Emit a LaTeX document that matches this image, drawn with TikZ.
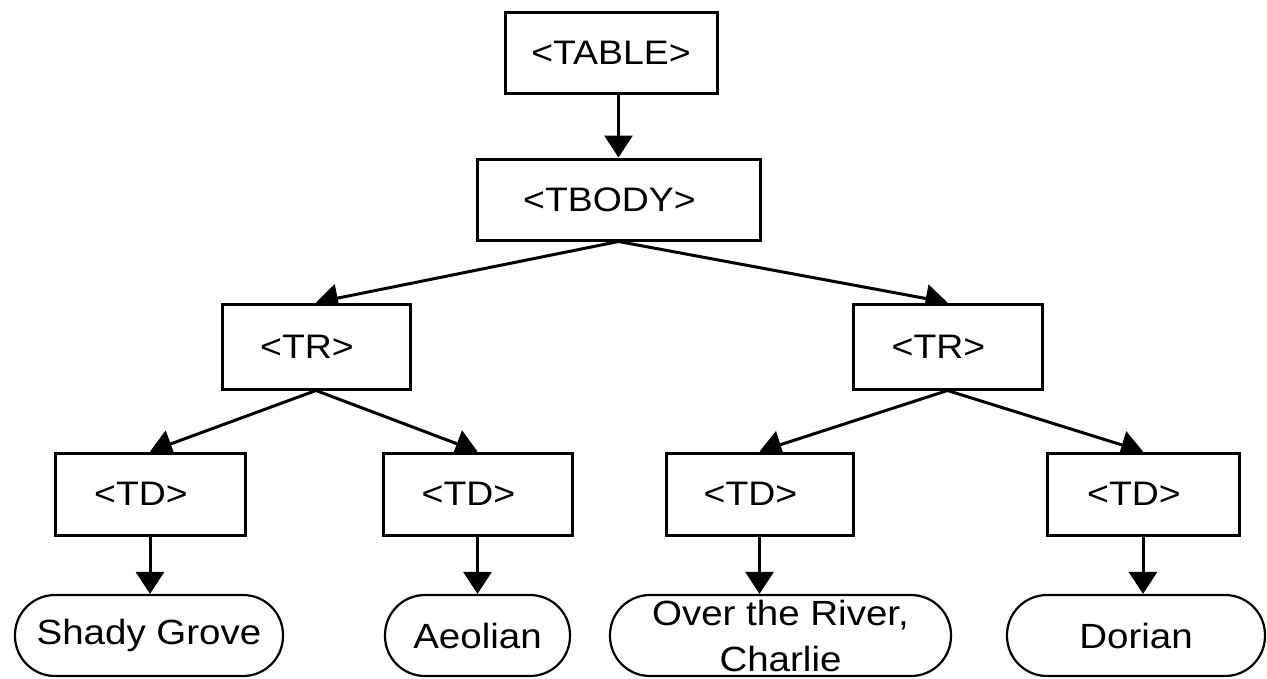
\documentclass[tikz,border=0pt]{standalone}
\usepackage{fontspec}
\setmainfont{Liberation Sans}[FakeStretch=1.1]
\usetikzlibrary{arrows.meta,backgrounds}
\begin{document}
\begin{tikzpicture}[x=1pt,y=-1pt,
  box/.style={draw, line width=3pt, fill=white, inner sep=0pt, font=\fontsize{34}{40}\selectfont},
  leaf/.style={draw, line width=2.2pt, fill=white, rounded corners=40pt, inner sep=0pt, align=center, font=\fontsize{35}{46}\selectfont},
  conn/.style={line width=3pt, -{Triangle[width=28pt,length=22pt]}}]
\useasboundingbox (0,0) rectangle (1267,678);
% boxes
\node[box, minimum width=212pt, minimum height=81pt] (table) at (611,52.5) {<TABLE>};
\node[box, minimum width=283pt, minimum height=81pt] (tbody) at (618.5,199.5) {<TBODY>\hspace*{18pt}};
\node[box, minimum width=188pt, minimum height=85pt] (trl) at (316,346.5) {<TR>\hspace*{18pt}};
\node[box, minimum width=189pt, minimum height=85pt] (trr) at (947.5,346.5) {<TR>\hspace*{18pt}};
\node[box, minimum width=190pt, minimum height=82pt] (td1) at (150,494) {<TD>\hspace*{18pt}};
\node[box, minimum width=189pt, minimum height=82pt] (td2) at (477.5,494) {<TD>\hspace*{18pt}};
\node[box, minimum width=187pt, minimum height=82pt] (td3) at (759.5,494) {<TD>\hspace*{18pt}};
\node[box, minimum width=192pt, minimum height=82pt] (td4) at (1143,494) {<TD>\hspace*{18pt}};
% leaves
\node[leaf, minimum width=268pt, minimum height=81pt] (l1) at (149,635.5) {Shady Grove};
\node[leaf, minimum width=185pt, minimum height=81pt] (l2) at (477.5,635.5) {Aeolian};
\node[leaf, minimum width=341pt, minimum height=81pt] (l3) at (780.5,635.5) {Over the River,\\Charlie};
\node[leaf, minimum width=258pt, minimum height=81pt] (l4) at (1136,635.5) {Dorian};
% connectors behind the boxes
\begin{pgfonlayer}{background}
\fill[white] (0,0) rectangle (1267,678);
\draw[conn] (table.south -| tbody.north) -- (tbody.north);
\draw[conn] (tbody.south) -- (trl.north);
\draw[conn] (tbody.south) -- (trr.north);
\draw[conn] (trl.south) -- (td1.north);
\draw[conn] (trl.south) -- (td2.north);
\draw[conn] (trr.south) -- (td3.north);
\draw[conn] (trr.south) -- (td4.north);
\draw[conn] (td1.south) -- (td1.south |- l1.north);
\draw[conn] (td2.south) -- (td2.south |- l2.north);
\draw[conn] (td3.south) -- (td3.south |- l3.north);
\draw[conn] (td4.south) -- (td4.south |- l4.north);
\end{pgfonlayer}
\end{tikzpicture}
\end{document}
